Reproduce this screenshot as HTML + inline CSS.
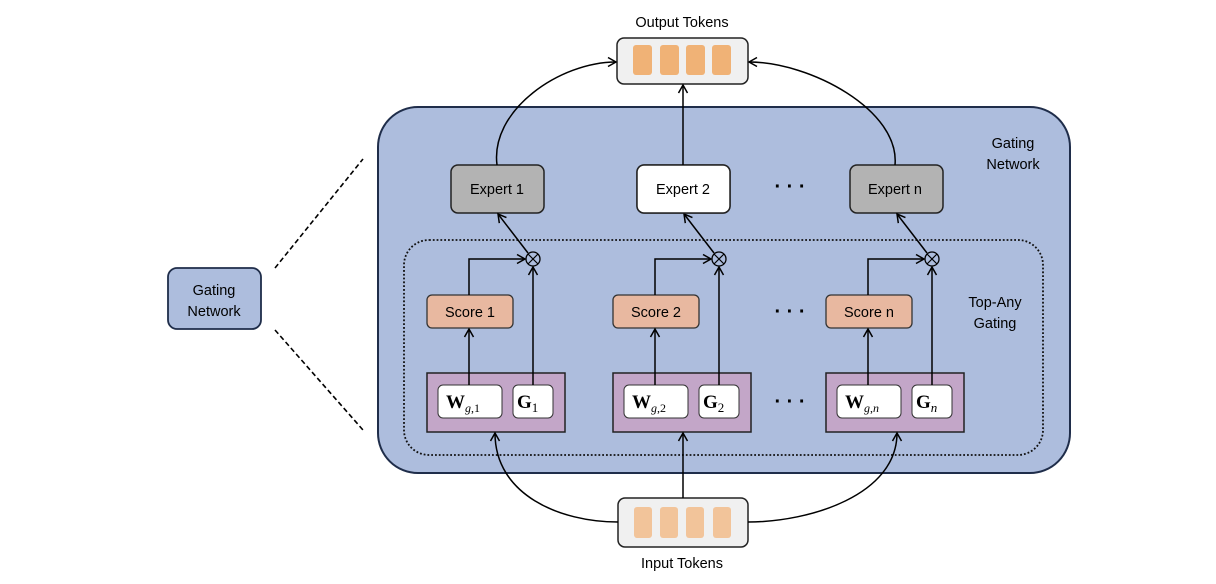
<!DOCTYPE html>
<html><head><meta charset="utf-8"><style>
html,body{margin:0;padding:0;background:#fff;}
svg{display:block;font-family:"Liberation Sans",sans-serif;}
</style></head><body>
<svg width="1216" height="584" viewBox="0 0 1216 584" xmlns="http://www.w3.org/2000/svg">
<defs>
<marker id="a" markerWidth="12" markerHeight="12" refX="9" refY="6" orient="auto" markerUnits="userSpaceOnUse">
<path d="M1,1.5 L9,6 L1,10.5" fill="none" stroke="#000" stroke-width="1.5"/>
</marker>
<g id="col">
<rect x="451" y="165" width="93" height="48" rx="7" fill="#b3b3b3" stroke="#222" stroke-width="1.5"/>
<rect x="427" y="295" width="86" height="33" rx="5" fill="#e8b8a0" stroke="#333" stroke-width="1.3"/>
<text x="470" y="317" font-size="14.5" text-anchor="middle">Score 1</text>
<rect x="427" y="373" width="138" height="59" fill="#c3a6c8" stroke="#222" stroke-width="1.5"/>
<rect x="438" y="385" width="64" height="33" rx="5" fill="#fff" stroke="#333" stroke-width="1"/>
<rect x="513" y="385" width="40" height="33" rx="5" fill="#fff" stroke="#333" stroke-width="1"/>
<line x1="469" y1="385" x2="469" y2="329" stroke="#000" stroke-width="1.5" marker-end="url(#a)"/>
<polyline points="469,295 469,259 525,259" fill="none" stroke="#000" stroke-width="1.5" marker-end="url(#a)"/>
<line x1="533" y1="385" x2="533" y2="267" stroke="#000" stroke-width="1.5" marker-end="url(#a)"/>
<circle cx="533" cy="259" r="7" fill="none" stroke="#000" stroke-width="1.3"/>
<path d="M528,254 L538,264 M538,254 L528,264" stroke="#000" stroke-width="1.2"/>
<line x1="528" y1="253" x2="498" y2="214" stroke="#000" stroke-width="1.5" marker-end="url(#a)"/>
</g>
</defs>
<rect x="168" y="268" width="93" height="61" rx="9" fill="#adbddd" stroke="#1f2d4a" stroke-width="1.8"/>
<text x="214" y="295" font-size="14.5" text-anchor="middle">Gating</text>
<text x="214" y="316" font-size="14.5" text-anchor="middle">Network</text>
<line x1="275" y1="268" x2="363" y2="159" stroke="#000" stroke-width="1.6" stroke-dasharray="5,3"/>
<line x1="275" y1="330" x2="363" y2="430" stroke="#000" stroke-width="1.6" stroke-dasharray="5,3"/>
<rect x="378" y="107" width="692" height="366" rx="40" fill="#adbddd" stroke="#1f2d4a" stroke-width="2"/>
<text x="1013" y="148" font-size="14.5" text-anchor="middle">Gating</text>
<text x="1013" y="169" font-size="14.5" text-anchor="middle">Network</text>
<rect x="404" y="240" width="639" height="215" rx="25" fill="none" stroke="#111" stroke-width="1.8" stroke-dasharray="1.8,2"/>
<text x="995" y="307" font-size="14.5" text-anchor="middle">Top-Any</text>
<text x="995" y="328" font-size="14.5" text-anchor="middle">Gating</text>
<use href="#col"/>
<use href="#col" transform="translate(186,0)"/>
<use href="#col" transform="translate(399,0)"/>
<rect x="637" y="165" width="93" height="48" rx="7" fill="#fff" stroke="#222" stroke-width="1.5"/>
<text x="497" y="194" font-size="14.5" text-anchor="middle">Expert 1</text>
<text x="683" y="194" font-size="14.5" text-anchor="middle">Expert 2</text>
<text x="895" y="194" font-size="14.5" text-anchor="middle">Expert n</text>
<rect x="615" y="298" width="80" height="25" fill="#e8b8a0"/>
<text x="656" y="317" font-size="14.5" text-anchor="middle">Score 2</text>
<rect x="828" y="298" width="80" height="25" fill="#e8b8a0"/>
<text x="869" y="317" font-size="14.5" text-anchor="middle">Score n</text>
<g font-family="Liberation Serif,serif" font-weight="bold" font-size="19">
<text x="446" y="408">W<tspan font-weight="normal" font-style="italic" font-size="12" dy="4">g</tspan><tspan font-weight="normal" font-size="12">,1</tspan></text>
<text x="517" y="408">G<tspan font-weight="normal" font-size="13" dy="4">1</tspan></text>
<text x="632" y="408">W<tspan font-weight="normal" font-style="italic" font-size="12" dy="4">g</tspan><tspan font-weight="normal" font-size="12">,2</tspan></text>
<text x="703" y="408">G<tspan font-weight="normal" font-size="13" dy="4">2</tspan></text>
<text x="845" y="408">W<tspan font-weight="normal" font-style="italic" font-size="12" dy="4">g</tspan><tspan font-weight="normal" font-size="12">,</tspan><tspan font-weight="normal" font-style="italic" font-size="12">n</tspan></text>
<text x="916" y="408">G<tspan font-weight="normal" font-style="italic" font-size="13" dy="4">n</tspan></text>
</g>
<g font-size="20" font-weight="bold" text-anchor="middle">
<text x="790" y="193">· · ·</text><text x="790" y="318">· · ·</text><text x="790" y="408">· · ·</text>
</g>
<text x="682" y="27" font-size="14.5" text-anchor="middle">Output Tokens</text>
<rect x="617" y="38" width="131" height="46" rx="7" fill="#f0f0f0" stroke="#222" stroke-width="1.5"/>
<g fill="#f0b276"><rect x="633" y="45" width="19" height="30" rx="3"/><rect x="660" y="45" width="19" height="30" rx="3"/><rect x="686" y="45" width="19" height="30" rx="3"/><rect x="712" y="45" width="19" height="30" rx="3"/></g>
<path d="M497,165 C490,110 560,62 616,62" fill="none" stroke="#000" stroke-width="1.5" marker-end="url(#a)"/>
<line x1="683" y1="165" x2="683" y2="85" stroke="#000" stroke-width="1.5" marker-end="url(#a)"/>
<path d="M895,165 C900,110 810,62 749,62" fill="none" stroke="#000" stroke-width="1.5" marker-end="url(#a)"/>
<rect x="618" y="498" width="130" height="49" rx="7" fill="#f0f0f0" stroke="#222" stroke-width="1.5"/>
<g fill="#f2c49a"><rect x="634" y="507" width="18" height="31" rx="3"/><rect x="660" y="507" width="18" height="31" rx="3"/><rect x="686" y="507" width="18" height="31" rx="3"/><rect x="713" y="507" width="18" height="31" rx="3"/></g>
<text x="682" y="568" font-size="14.5" text-anchor="middle">Input Tokens</text>
<path d="M618,522 C560,522 495,495 495,433" fill="none" stroke="#000" stroke-width="1.5" marker-end="url(#a)"/>
<line x1="683" y1="498" x2="683" y2="433" stroke="#000" stroke-width="1.5" marker-end="url(#a)"/>
<path d="M748,522 C810,522 897,495 897,433" fill="none" stroke="#000" stroke-width="1.5" marker-end="url(#a)"/>
</svg>
</body></html>
